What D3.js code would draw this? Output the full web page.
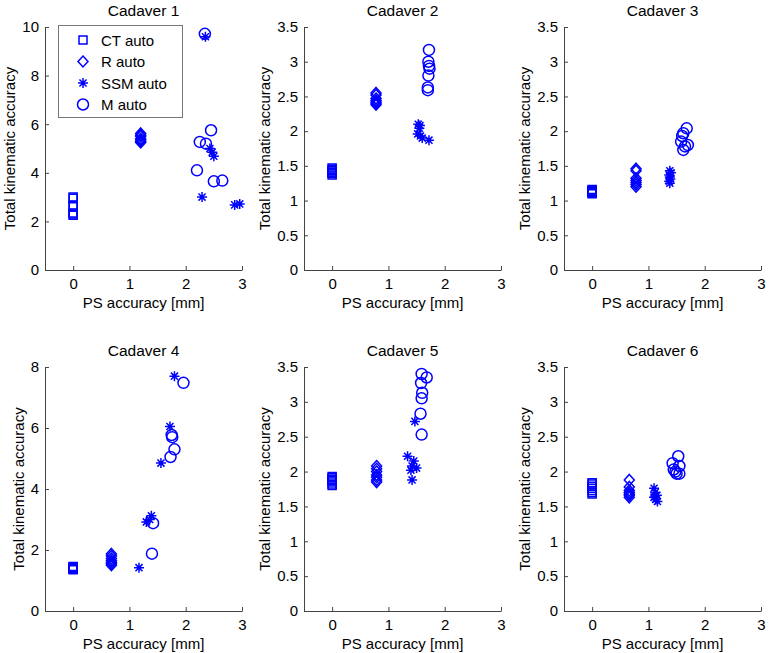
<!DOCTYPE html>
<html><head><meta charset="utf-8">
<script src="https://cdn.jsdelivr.net/npm/d3@7"></script>
<style>
body{margin:0;background:#fff;}
svg{display:block;}
text{font-family:"Liberation Sans",Arial,sans-serif;}
</style></head>
<body>
<svg id="chart" width="769" height="653"></svg>
<script>
const cadavers = ["Cadaver 1","Cadaver 2","Cadaver 3","Cadaver 4","Cadaver 5","Cadaver 6"];
const methods = ["CT auto","R auto","SSM auto","M auto"];
const yMax = [10,3.5,3.5,8,3.5,3.5];
const yStep = [2,0.5,0.5,2,0.5,0.5];
const xTicks = [0,1,2,3];
const xLabel = "PS accuracy [mm]";
const yLabel = "Total kinematic accuracy";

const ctX = [[0,0,0,0,0,0,0],[0,0,0,0,0,0,0],[0,0,0,0,0,0,0],[0,0,0,0,0,0,0],[0,0,0,0,0,0,0],[0,0,0,0,0,0,0]];
const ctY = [[2.25,2.3,2.6,2.65,2.95,3.0,2.35],[1.37,1.39,1.41,1.43,1.45,1.47,1.4],[1.1,1.11,1.12,1.13,1.14,1.15,1.16],[1.35,1.37,1.4,1.42,1.44,1.46,1.38],[1.8,1.82,1.85,1.87,1.89,1.91,1.93],[1.68,1.7,1.73,1.76,1.79,1.82,1.84]];
const rX = [[1.2,1.2,1.2,1.2,1.2,1.2,1.2],[0.78,0.78,0.78,0.78,0.78,0.78,0.78],[0.78,0.78,0.78,0.78,0.78,0.78,0.78],[0.68,0.68,0.68,0.68,0.68,0.68,0.68],[0.79,0.79,0.79,0.79,0.79,0.79,0.79],[0.66,0.66,0.66,0.66,0.66,0.66,0.66]];
const rY = [[5.25,5.3,5.35,5.4,5.5,5.55,5.62],[2.38,2.4,2.42,2.44,2.47,2.52,2.55],[1.2,1.23,1.26,1.29,1.32,1.43,1.46],[1.5,1.55,1.6,1.65,1.72,1.8,1.87],[1.85,1.88,1.92,1.95,2.0,2.04,2.08],[1.63,1.66,1.68,1.7,1.73,1.78,1.88]];
const ssmX = [[2.35,2.43,2.47,2.5,2.29,2.87,2.96],[1.53,1.56,1.55,1.52,1.57,1.6,1.72],[1.38,1.37,1.39,1.38,1.37,1.4,1.38],[1.8,1.72,1.56,1.39,1.36,1.3,1.17],[1.47,1.34,1.45,1.42,1.5,1.4,1.42],[1.1,1.12,1.15,1.1,1.13,1.16,1.12]];
const ssmY = [[9.6,5.0,4.85,4.68,3.0,2.68,2.72],[2.1,2.08,2.04,1.96,1.93,1.9,1.87],[1.25,1.28,1.31,1.34,1.37,1.4,1.43],[7.7,6.05,4.85,3.12,3.0,2.92,1.42],[2.72,2.22,2.15,2.08,2.05,2.02,1.88],[1.76,1.7,1.66,1.63,1.6,1.57,1.65]];
const mX = [[2.34,2.45,2.25,2.36,2.2,2.5,2.65],[1.72,1.71,1.72,1.73,1.71,1.7,1.7],[1.68,1.62,1.6,1.58,1.65,1.62,1.7],[1.96,1.75,1.76,1.8,1.73,1.42,1.4],[1.59,1.68,1.58,1.6,1.59,1.57,1.59],[1.53,1.43,1.55,1.45,1.5,1.55,1.48]];
const mY = [[9.72,5.75,5.27,5.2,4.1,3.65,3.68],[3.17,3.0,2.94,2.9,2.8,2.63,2.59],[2.04,1.97,1.93,1.85,1.78,1.73,1.8],[7.48,5.77,5.7,5.3,5.05,2.88,1.88],[3.4,3.35,3.27,3.13,3.05,2.83,2.53],[2.22,2.12,2.08,2.03,1.97,1.97,2.0]];

const seriesX = [ctX, rX, ssmX, mX];
const seriesY = [ctY, rY, ssmY, mY];

const blue = "#0000ff";
const axisCol = "#444";
const markerPath = [
  () => "M-4,-4H4V4H-4Z",
  () => "M0,-5.5L5,0L0,5.5L-5,0Z",
  () => { const r=5, d=r*0.7071; return `M${-r},0H${r}M0,${-r}V${r}M${-d},${-d}L${d},${d}M${-d},${d}L${d},${-d}`; },
  () => "M5.5,0A5.5,5.5 0 1,1 -5.5,0A5.5,5.5 0 1,1 5.5,0Z"
];

const svg = d3.select("#chart");
const colLeft = [45, 304, 564];
const rowTop = [27, 367];
const rowBottom = [270, 611];
const panelW = 197;

cadavers.forEach((name, i) => {
  const col = i % 3, row = Math.floor(i / 3);
  const x0 = colLeft[col];
  const x = d3.scaleLinear().domain([-0.5, 3]).range([x0, x0 + panelW]);
  const y = d3.scaleLinear().domain([0, yMax[i]]).range([rowBottom[row], rowTop[row]]);
  const g = svg.append("g");

  const yTicks = d3.range(0, yMax[i] + 1e-9, yStep[i]);
  const yAxis = g.append("g").attr("transform", `translate(${x0},0)`)
    .call(d3.axisLeft(y).tickValues(yTicks).tickFormat(d3.format("~g")).tickSizeInner(-4).tickSizeOuter(0).tickPadding(6));
  const xAxis = g.append("g").attr("transform", `translate(0,${rowBottom[row]})`)
    .call(d3.axisBottom(x).tickValues(xTicks).tickFormat(d3.format("d")).tickSizeInner(-4).tickSizeOuter(0).tickPadding(8));
  [yAxis, xAxis].forEach(a => {
    a.select(".domain").attr("stroke", axisCol);
    a.selectAll(".tick line").attr("stroke", axisCol);
    a.selectAll("text").attr("font-size", 15).attr("fill", "#000").style("font-family", '"Liberation Sans",Arial,sans-serif');
  });

  let maxW = 0;
  yAxis.selectAll("text").each(function(){ maxW = Math.max(maxW, this.getComputedTextLength()); });

  g.append("text").attr("x", x0 + panelW / 2).attr("y", rowTop[row] - 11)
    .attr("text-anchor", "middle").attr("font-size", 15.5).text(name);
  g.append("text").attr("x", x0 + panelW / 2).attr("y", rowBottom[row] + 38)
    .attr("text-anchor", "middle").attr("font-size", 15).text(xLabel);
  const ly = (rowTop[row] + rowBottom[row]) / 2;
  const lx = x0 - 6 - maxW - 7;
  g.append("text").attr("transform", `translate(${lx},${ly}) rotate(-90)`)
    .attr("text-anchor", "middle").attr("font-size", 15).text(yLabel);

  methods.forEach((m, k) => {
    const xs = seriesX[k][i], ys = seriesY[k][i];
    g.append("g").selectAll("path").data(ys.map((v, j) => [xs[j], v])).join("path")
      .attr("transform", d => `translate(${x(d[0])},${y(d[1])})`)
      .attr("d", markerPath[k]())
      .attr("fill", "none").attr("stroke", blue).attr("stroke-width", 1.5);
  });

  if (i === 0) {
    const lg = g.append("g");
    lg.append("rect").attr("x", 58.5).attr("y", 25.5).attr("width", 124).attr("height", 92)
      .attr("fill", "#fff").attr("stroke", "#777").attr("stroke-width", 1);
    methods.forEach((m, k) => {
      const yy = 40 + k * 21.5;
      lg.append("path").attr("transform", `translate(83,${yy})`).attr("d", markerPath[k]())
        .attr("fill", "none").attr("stroke", blue).attr("stroke-width", 1.5);
      lg.append("text").attr("x", 101).attr("y", yy + 5.5).attr("font-size", 15).text(m);
    });
  }
});
</script>
</body></html>
